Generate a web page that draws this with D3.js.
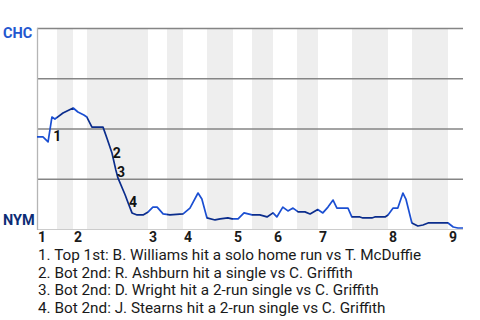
<!DOCTYPE html>
<html>
<head>
<meta charset="utf-8">
<script src="https://cdn.jsdelivr.net/npm/d3@7"></script>
<style>
  body { margin: 0; background: #fff; }
  text { font-family: Roboto, "Noto Sans", sans-serif; }
</style>
</head>
<body>
<script>
// equipos
var away = "CHC", home = "NYM";

// inicio de cada media entrada (en % del juego)
var halfStarts = [0, 4.7, 8.45, 11.74, 26.06, 30.52, 34.27, 39.91, 46.01, 50.47,
                  55.4, 61.03, 65.96, 73.94, 82.39, 88.03, 96.48];
var gameEnd = 100;
var innings = ["1", "2", "3", "4", "5", "6", "7", "8", "9"];

// probabilidad de victoria de CHC
var playX = [0, 1.4, 2.6, 3.5, 4.2, 6.1, 8.5, 9.6, 11.0, 11.7, 12.9, 15.5, 16.4, 17.6,
             18.5, 19.0, 20.7, 21.4, 22.3, 23.5, 24.9, 26.1, 27.2, 28.2, 29.6, 31.2,
             34.3, 35.9, 37.8, 38.7, 39.9, 41.8, 43.0, 44.8, 45.8, 47.2, 48.6, 50.5,
             52.3, 54.0, 55.4, 56.3, 57.7, 58.9, 60.1, 61.3, 62.9, 64.1, 65.9, 67.1,
             68.3, 69.5, 70.4, 73.0, 73.9, 75.8, 76.5, 78.6, 79.3, 81.7, 82.4, 83.6,
             84.7, 85.9, 86.6, 88.0, 89.4, 90.6, 91.8, 96.5, 97.7, 98.8, 100];
var playWP = [0.458, 0.458, 0.433, 0.557, 0.547, 0.577, 0.602, 0.582, 0.567, 0.557, 0.507,
              0.507, 0.453, 0.378, 0.294, 0.254, 0.169, 0.129, 0.080, 0.070, 0.070, 0.085,
              0.109, 0.109, 0.075, 0.070, 0.075, 0.104, 0.179, 0.149, 0.055, 0.045, 0.050,
              0.055, 0.050, 0.050, 0.080, 0.070, 0.070, 0.060, 0.080, 0.060, 0.109, 0.090,
              0.104, 0.085, 0.085, 0.075, 0.097, 0.080, 0.109, 0.144, 0.104, 0.104, 0.060,
              0.060, 0.055, 0.055, 0.060, 0.060, 0.070, 0.104, 0.104, 0.179, 0.149, 0.030,
              0.015, 0.020, 0.030, 0.030, 0.010, 0.005, 0.005];

// jugadas destacadas
var notes = ["Top 1st: B. Williams hit a solo home run vs T. McDuffie",
             "Bot 2nd: R. Ashburn hit a single vs C. Griffith",
             "Bot 2nd: D. Wright hit a 2-run single vs C. Griffith",
             "Bot 2nd: J. Stearns hit a 2-run single vs C. Griffith"];
var noteX = [3.8, 17.8, 18.8, 21.6];
var noteWP = [0.438, 0.353, 0.259, 0.109];

var width = 480, height = 320;
var plotL = 37, plotR = 463, plotT = 28, plotB = 229;

var x = d3.scaleLinear().domain([0, gameEnd]).range([plotL, plotR]);
var y = d3.scaleLinear().domain([0, 1]).range([plotB, plotT]);

var svg = d3.select("body").append("svg")
    .attr("width", width)
    .attr("height", height);

// medias entradas
var halves = halfStarts.map(function (s, i) {
    return {start: s, end: i + 1 < halfStarts.length ? halfStarts[i + 1] : gameEnd, bottom: i % 2 == 1};
});

svg.append("g").selectAll("rect")
    .data(halves.filter(d => d.bottom))
    .join("rect")
    .attr("x", d => x(d.start))
    .attr("y", plotT)
    .attr("width", d => x(d.end) - x(d.start))
    .attr("height", plotB - plotT)
    .attr("fill", "#eeeeee");

// lineas de la cuadricula
svg.append("g").selectAll("line")
    .data([0.25, 0.5, 0.75, 1])
    .join("line")
    .attr("x1", plotL)
    .attr("x2", plotR)
    .attr("y1", d => y(d) + 0.5)
    .attr("y2", d => y(d) + 0.5)
    .attr("stroke", "#858585")
    .attr("stroke-width", 1.3);

svg.append("line")
    .attr("x1", plotL).attr("x2", plotR)
    .attr("y1", plotB + 0.5).attr("y2", plotB + 0.5)
    .attr("stroke", "#cccccc");

svg.append("line")
    .attr("x1", plotL + 0.5).attr("x2", plotL + 0.5)
    .attr("y1", plotT).attr("y2", plotB + 1)
    .attr("stroke", "#b5b5b5")
    .attr("stroke-width", 1.3);

// linea de probabilidad, color por media entrada
var pts = playX.map((d, i) => [d, playWP[i]]);
var line = d3.line().x(d => x(d[0])).y(d => y(d[1]));

var defs = svg.append("defs");
["top", "bot"].forEach(function (k, j) {
    defs.append("clipPath").attr("id", "clip-" + k)
        .selectAll("rect")
        .data(halves.filter(d => d.bottom == (j == 1)))
        .join("rect")
        .attr("x", d => x(d.start))
        .attr("y", 0)
        .attr("width", d => x(d.end) - x(d.start))
        .attr("height", height);
});

svg.append("path")
    .datum(pts)
    .attr("d", line)
    .attr("fill", "none")
    .attr("stroke", "#1b4fd2")
    .attr("stroke-width", 1.7)
    .attr("stroke-linejoin", "round")
    .attr("clip-path", "url(#clip-top)");

svg.append("path")
    .datum(pts)
    .attr("d", line)
    .attr("fill", "none")
    .attr("stroke", "#0b2d8c")
    .attr("stroke-width", 1.7)
    .attr("stroke-linejoin", "round")
    .attr("clip-path", "url(#clip-bot)");

// numeros de las jugadas
svg.append("g").selectAll("text")
    .data(notes)
    .join("text")
    .attr("x", (d, i) => x(noteX[i]))
    .attr("y", (d, i) => y(noteWP[i]))
    .attr("font-size", 14)
    .attr("font-weight", "bold")
    .attr("fill", "#111")
    .text((d, i) => i + 1);

// equipos
svg.append("text")
    .attr("x", 3).attr("y", y(1) + 10)
    .attr("font-size", 14.5).attr("font-weight", "bold")
    .attr("fill", "#2357cf")
    .text(away);

svg.append("text")
    .attr("x", 3).attr("y", y(0) - 4)
    .attr("font-size", 14.5).attr("font-weight", "bold")
    .attr("fill", "#0c2c75")
    .text(home);

// entradas
svg.append("g").selectAll("text")
    .data(innings)
    .join("text")
    .attr("x", (d, i) => x(halfStarts[i * 2]) + 1)
    .attr("y", 242)
    .attr("font-size", 14)
    .attr("font-weight", "bold")
    .attr("fill", "#1a1a1a")
    .text(d => d);

// leyenda
svg.append("g").selectAll("text")
    .data(notes)
    .join("text")
    .attr("x", 38)
    .attr("y", (d, i) => 260 + i * 17.5)
    .attr("font-size", 15.3)
    .attr("fill", "#1a1a1a")
    .text((d, i) => (i + 1) + ". " + d);
</script>
</body>
</html>
